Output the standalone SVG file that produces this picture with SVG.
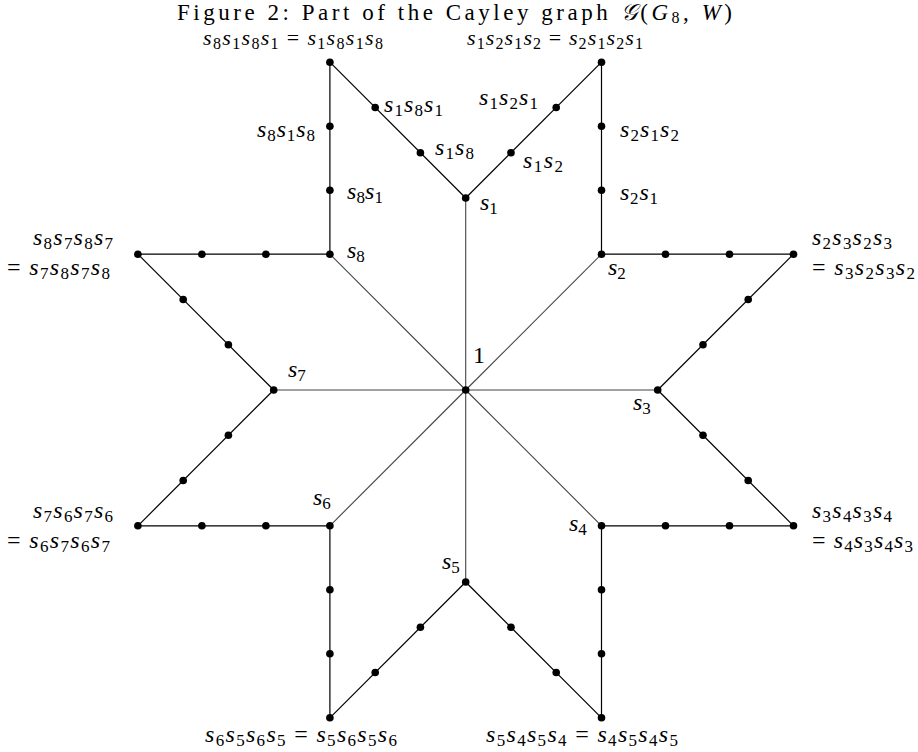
<svg xmlns="http://www.w3.org/2000/svg" width="918" height="752" viewBox="0 0 918 752">
<style>
.t{font-family:"Liberation Serif",serif;font-size:24px;fill:#000}
.v{font-style:italic}
.sb{font-size:17px;font-style:normal}
.top{font-size:22px}
.top .sb{font-size:16px}
.spoke{stroke:#444;stroke-width:1.1;fill:none}
.side{stroke:#000;stroke-width:1.2;fill:none}
.dot{fill:#000}
</style>
<rect width="918" height="752" fill="#fff"/>
<text id="title" class="t" x="177" y="20" textLength="555" lengthAdjust="spacing" style="font-size:23px">Figure 2: Part of the Cayley graph <tspan class="v">𝒢</tspan>(<tspan class="v">G</tspan><tspan style="font-size:16px" dy="3">8</tspan><tspan dy="-3">, </tspan><tspan class="v">W</tspan>)</text>
<g id="connectors">
<line class="spoke" x1="465.7" y1="390" x2="465.7" y2="198"/>
<line class="spoke" x1="465.7" y1="390" x2="601.5" y2="254.2"/>
<line class="spoke" x1="465.7" y1="390" x2="657.7" y2="390"/>
<line class="spoke" x1="465.7" y1="390" x2="601.5" y2="525.8"/>
<line class="spoke" x1="465.7" y1="390" x2="465.7" y2="582"/>
<line class="spoke" x1="465.7" y1="390" x2="329.9" y2="525.8"/>
<line class="spoke" x1="465.7" y1="390" x2="273.7" y2="390"/>
<line class="spoke" x1="465.7" y1="390" x2="329.9" y2="254.2"/>
<line class="side" x1="329.9" y1="254.2" x2="329.9" y2="62.2"/>
<line class="side" x1="465.7" y1="198" x2="329.9" y2="62.2"/>
<line class="side" x1="465.7" y1="198" x2="601.5" y2="62.2"/>
<line class="side" x1="601.5" y1="254.2" x2="601.5" y2="62.2"/>
<line class="side" x1="601.5" y1="254.2" x2="793.5" y2="254.2"/>
<line class="side" x1="657.7" y1="390" x2="793.5" y2="254.2"/>
<line class="side" x1="657.7" y1="390" x2="793.5" y2="525.8"/>
<line class="side" x1="601.5" y1="525.8" x2="793.5" y2="525.8"/>
<line class="side" x1="601.5" y1="525.8" x2="601.5" y2="717.8"/>
<line class="side" x1="465.7" y1="582" x2="601.5" y2="717.8"/>
<line class="side" x1="465.7" y1="582" x2="329.9" y2="717.8"/>
<line class="side" x1="329.9" y1="525.8" x2="329.9" y2="717.8"/>
<line class="side" x1="329.9" y1="525.8" x2="137.9" y2="525.8"/>
<line class="side" x1="273.7" y1="390" x2="137.9" y2="525.8"/>
<line class="side" x1="273.7" y1="390" x2="137.9" y2="254.2"/>
<line class="side" x1="329.9" y1="254.2" x2="137.9" y2="254.2"/>
</g>
<g id="n-1"><circle class="dot" cx="465.7" cy="390" r="3.8"/><text class="t" x="473" y="363">1</text></g>
<g id="n-s1"><circle class="dot" cx="465.7" cy="198" r="3.8"/><text class="t" x="480" y="214"><tspan class="v" dy="-4">s</tspan><tspan class="sb" dy="4">1</tspan></text></g>
<g id="n-s2"><circle class="dot" cx="601.5" cy="254.2" r="3.8"/><text class="t" x="608" y="279"><tspan class="v" dy="-4">s</tspan><tspan class="sb" dy="4">2</tspan></text></g>
<g id="n-s3"><circle class="dot" cx="657.7" cy="390" r="3.8"/><text class="t" x="633" y="414"><tspan class="v" dy="-4">s</tspan><tspan class="sb" dy="4">3</tspan></text></g>
<g id="n-s4"><circle class="dot" cx="601.5" cy="525.8" r="3.8"/><text class="t" x="569" y="535"><tspan class="v" dy="-4">s</tspan><tspan class="sb" dy="4">4</tspan></text></g>
<g id="n-s5"><circle class="dot" cx="465.7" cy="582" r="3.8"/><text class="t" x="442" y="573"><tspan class="v" dy="-4">s</tspan><tspan class="sb" dy="4">5</tspan></text></g>
<g id="n-s6"><circle class="dot" cx="329.9" cy="525.8" r="3.8"/><text class="t" x="313" y="509"><tspan class="v" dy="-4">s</tspan><tspan class="sb" dy="4">6</tspan></text></g>
<g id="n-s7"><circle class="dot" cx="273.7" cy="390" r="3.8"/><text class="t" x="288" y="381"><tspan class="v" dy="-4">s</tspan><tspan class="sb" dy="4">7</tspan></text></g>
<g id="n-s8"><circle class="dot" cx="329.9" cy="254.2" r="3.8"/><text class="t" x="347" y="262"><tspan class="v" dy="-4">s</tspan><tspan class="sb" dy="4">8</tspan></text></g>
<g id="n-s8s1"><circle class="dot" cx="329.9" cy="190.2" r="3.8"/><text class="t" x="347" y="203" textLength="36" lengthAdjust="spacing"><tspan class="v" dy="-4">s</tspan><tspan class="sb" dy="4">8</tspan><tspan class="v" dy="-4">s</tspan><tspan class="sb" dy="4">1</tspan></text></g>
<g id="n-s8s1s8"><circle class="dot" cx="329.9" cy="126.2" r="3.8"/><text class="t" x="257" y="141" textLength="58" lengthAdjust="spacing"><tspan class="v" dy="-4">s</tspan><tspan class="sb" dy="4">8</tspan><tspan class="v" dy="-4">s</tspan><tspan class="sb" dy="4">1</tspan><tspan class="v" dy="-4">s</tspan><tspan class="sb" dy="4">8</tspan></text></g>
<g id="n-s1s8"><circle class="dot" cx="420.4" cy="152.7" r="3.8"/><text class="t" x="435" y="159" textLength="39" lengthAdjust="spacing"><tspan class="v" dy="-4">s</tspan><tspan class="sb" dy="4">1</tspan><tspan class="v" dy="-4">s</tspan><tspan class="sb" dy="4">8</tspan></text></g>
<g id="n-s1s8s1"><circle class="dot" cx="375.2" cy="107.5" r="3.8"/><text class="t" x="384" y="116" textLength="59" lengthAdjust="spacing"><tspan class="v" dy="-4">s</tspan><tspan class="sb" dy="4">1</tspan><tspan class="v" dy="-4">s</tspan><tspan class="sb" dy="4">8</tspan><tspan class="v" dy="-4">s</tspan><tspan class="sb" dy="4">1</tspan></text></g>
<g id="n-c81"><circle class="dot" cx="329.9" cy="62.2" r="3.8"/><text class="t top" x="203" y="49" textLength="180" lengthAdjust="spacing"><tspan class="v" dy="-4">s</tspan><tspan class="sb" dy="4">8</tspan><tspan class="v" dy="-4">s</tspan><tspan class="sb" dy="4">1</tspan><tspan class="v" dy="-4">s</tspan><tspan class="sb" dy="4">8</tspan><tspan class="v" dy="-4">s</tspan><tspan class="sb" dy="4">1</tspan><tspan dy="-4"> = </tspan><tspan class="v">s</tspan><tspan class="sb" dy="4">1</tspan><tspan class="v" dy="-4">s</tspan><tspan class="sb" dy="4">8</tspan><tspan class="v" dy="-4">s</tspan><tspan class="sb" dy="4">1</tspan><tspan class="v" dy="-4">s</tspan><tspan class="sb" dy="4">8</tspan></text></g>
<g id="n-s1s2"><circle class="dot" cx="511" cy="152.7" r="3.8"/><text class="t" x="523" y="172" textLength="40" lengthAdjust="spacing"><tspan class="v" dy="-4">s</tspan><tspan class="sb" dy="4">1</tspan><tspan class="v" dy="-4">s</tspan><tspan class="sb" dy="4">2</tspan></text></g>
<g id="n-s1s2s1"><circle class="dot" cx="556.2" cy="107.5" r="3.8"/><text class="t" x="479" y="109" textLength="59" lengthAdjust="spacing"><tspan class="v" dy="-4">s</tspan><tspan class="sb" dy="4">1</tspan><tspan class="v" dy="-4">s</tspan><tspan class="sb" dy="4">2</tspan><tspan class="v" dy="-4">s</tspan><tspan class="sb" dy="4">1</tspan></text></g>
<g id="n-s2s1"><circle class="dot" cx="601.5" cy="190.2" r="3.8"/><text class="t" x="620" y="204" textLength="38" lengthAdjust="spacing"><tspan class="v" dy="-4">s</tspan><tspan class="sb" dy="4">2</tspan><tspan class="v" dy="-4">s</tspan><tspan class="sb" dy="4">1</tspan></text></g>
<g id="n-s2s1s2"><circle class="dot" cx="601.5" cy="126.2" r="3.8"/><text class="t" x="620" y="141" textLength="59" lengthAdjust="spacing"><tspan class="v" dy="-4">s</tspan><tspan class="sb" dy="4">2</tspan><tspan class="v" dy="-4">s</tspan><tspan class="sb" dy="4">1</tspan><tspan class="v" dy="-4">s</tspan><tspan class="sb" dy="4">2</tspan></text></g>
<g id="n-c12"><circle class="dot" cx="601.5" cy="62.2" r="3.8"/><text class="t top" x="467" y="49" textLength="176" lengthAdjust="spacing"><tspan class="v" dy="-4">s</tspan><tspan class="sb" dy="4">1</tspan><tspan class="v" dy="-4">s</tspan><tspan class="sb" dy="4">2</tspan><tspan class="v" dy="-4">s</tspan><tspan class="sb" dy="4">1</tspan><tspan class="v" dy="-4">s</tspan><tspan class="sb" dy="4">2</tspan><tspan dy="-4"> = </tspan><tspan class="v">s</tspan><tspan class="sb" dy="4">2</tspan><tspan class="v" dy="-4">s</tspan><tspan class="sb" dy="4">1</tspan><tspan class="v" dy="-4">s</tspan><tspan class="sb" dy="4">2</tspan><tspan class="v" dy="-4">s</tspan><tspan class="sb" dy="4">1</tspan></text></g>
<g id="n-m23">
<circle class="dot" cx="665.5" cy="254.2" r="3.8"/><circle class="dot" cx="729.5" cy="254.2" r="3.8"/>
<circle class="dot" cx="703" cy="344.7" r="3.8"/><circle class="dot" cx="748.2" cy="299.5" r="3.8"/>
</g>
<g id="n-c23"><circle class="dot" cx="793.5" cy="254.2" r="3.8"/>
<text class="t" x="812" y="249" textLength="80" lengthAdjust="spacing"><tspan class="v" dy="-4">s</tspan><tspan class="sb" dy="4">2</tspan><tspan class="v" dy="-4">s</tspan><tspan class="sb" dy="4">3</tspan><tspan class="v" dy="-4">s</tspan><tspan class="sb" dy="4">2</tspan><tspan class="v" dy="-4">s</tspan><tspan class="sb" dy="4">3</tspan></text>
<text class="t" x="812" y="279" textLength="103" lengthAdjust="spacing"><tspan dy="-4">= </tspan><tspan class="v">s</tspan><tspan class="sb" dy="4">3</tspan><tspan class="v" dy="-4">s</tspan><tspan class="sb" dy="4">2</tspan><tspan class="v" dy="-4">s</tspan><tspan class="sb" dy="4">3</tspan><tspan class="v" dy="-4">s</tspan><tspan class="sb" dy="4">2</tspan></text></g>
<g id="n-m34">
<circle class="dot" cx="703" cy="435.3" r="3.8"/><circle class="dot" cx="748.2" cy="480.5" r="3.8"/>
<circle class="dot" cx="665.5" cy="525.8" r="3.8"/><circle class="dot" cx="729.5" cy="525.8" r="3.8"/>
</g>
<g id="n-c34"><circle class="dot" cx="793.5" cy="525.8" r="3.8"/>
<text class="t" x="812" y="522" textLength="80" lengthAdjust="spacing"><tspan class="v" dy="-4">s</tspan><tspan class="sb" dy="4">3</tspan><tspan class="v" dy="-4">s</tspan><tspan class="sb" dy="4">4</tspan><tspan class="v" dy="-4">s</tspan><tspan class="sb" dy="4">3</tspan><tspan class="v" dy="-4">s</tspan><tspan class="sb" dy="4">4</tspan></text>
<text class="t" x="812" y="552" textLength="101" lengthAdjust="spacing"><tspan dy="-4">= </tspan><tspan class="v">s</tspan><tspan class="sb" dy="4">4</tspan><tspan class="v" dy="-4">s</tspan><tspan class="sb" dy="4">3</tspan><tspan class="v" dy="-4">s</tspan><tspan class="sb" dy="4">4</tspan><tspan class="v" dy="-4">s</tspan><tspan class="sb" dy="4">3</tspan></text></g>
<g id="n-m45">
<circle class="dot" cx="601.5" cy="589.8" r="3.8"/><circle class="dot" cx="601.5" cy="653.8" r="3.8"/>
<circle class="dot" cx="511" cy="627.3" r="3.8"/><circle class="dot" cx="556.2" cy="672.5" r="3.8"/>
</g>
<g id="n-c45"><circle class="dot" cx="601.5" cy="717.8" r="3.8"/>
<text class="t" x="486" y="746" textLength="192" lengthAdjust="spacing"><tspan class="v" dy="-4">s</tspan><tspan class="sb" dy="4">5</tspan><tspan class="v" dy="-4">s</tspan><tspan class="sb" dy="4">4</tspan><tspan class="v" dy="-4">s</tspan><tspan class="sb" dy="4">5</tspan><tspan class="v" dy="-4">s</tspan><tspan class="sb" dy="4">4</tspan><tspan dy="-4"> = </tspan><tspan class="v">s</tspan><tspan class="sb" dy="4">4</tspan><tspan class="v" dy="-4">s</tspan><tspan class="sb" dy="4">5</tspan><tspan class="v" dy="-4">s</tspan><tspan class="sb" dy="4">4</tspan><tspan class="v" dy="-4">s</tspan><tspan class="sb" dy="4">5</tspan></text></g>
<g id="n-m56">
<circle class="dot" cx="420.4" cy="627.3" r="3.8"/><circle class="dot" cx="375.2" cy="672.5" r="3.8"/>
<circle class="dot" cx="329.9" cy="589.8" r="3.8"/><circle class="dot" cx="329.9" cy="653.8" r="3.8"/>
</g>
<g id="n-c56"><circle class="dot" cx="329.9" cy="717.8" r="3.8"/>
<text class="t" x="205" y="746" textLength="192" lengthAdjust="spacing"><tspan class="v" dy="-4">s</tspan><tspan class="sb" dy="4">6</tspan><tspan class="v" dy="-4">s</tspan><tspan class="sb" dy="4">5</tspan><tspan class="v" dy="-4">s</tspan><tspan class="sb" dy="4">6</tspan><tspan class="v" dy="-4">s</tspan><tspan class="sb" dy="4">5</tspan><tspan dy="-4"> = </tspan><tspan class="v">s</tspan><tspan class="sb" dy="4">5</tspan><tspan class="v" dy="-4">s</tspan><tspan class="sb" dy="4">6</tspan><tspan class="v" dy="-4">s</tspan><tspan class="sb" dy="4">5</tspan><tspan class="v" dy="-4">s</tspan><tspan class="sb" dy="4">6</tspan></text></g>
<g id="n-m67">
<circle class="dot" cx="265.9" cy="525.8" r="3.8"/><circle class="dot" cx="201.9" cy="525.8" r="3.8"/>
<circle class="dot" cx="228.4" cy="435.3" r="3.8"/><circle class="dot" cx="183.2" cy="480.5" r="3.8"/>
</g>
<g id="n-c67"><circle class="dot" cx="137.9" cy="525.8" r="3.8"/>
<text class="t" x="33" y="522" textLength="80" lengthAdjust="spacing"><tspan class="v" dy="-4">s</tspan><tspan class="sb" dy="4">7</tspan><tspan class="v" dy="-4">s</tspan><tspan class="sb" dy="4">6</tspan><tspan class="v" dy="-4">s</tspan><tspan class="sb" dy="4">7</tspan><tspan class="v" dy="-4">s</tspan><tspan class="sb" dy="4">6</tspan></text>
<text class="t" x="7" y="552" textLength="103" lengthAdjust="spacing"><tspan dy="-4">= </tspan><tspan class="v">s</tspan><tspan class="sb" dy="4">6</tspan><tspan class="v" dy="-4">s</tspan><tspan class="sb" dy="4">7</tspan><tspan class="v" dy="-4">s</tspan><tspan class="sb" dy="4">6</tspan><tspan class="v" dy="-4">s</tspan><tspan class="sb" dy="4">7</tspan></text></g>
<g id="n-m78">
<circle class="dot" cx="228.4" cy="344.7" r="3.8"/><circle class="dot" cx="183.2" cy="299.5" r="3.8"/>
<circle class="dot" cx="265.9" cy="254.2" r="3.8"/><circle class="dot" cx="201.9" cy="254.2" r="3.8"/>
</g>
<g id="n-c78"><circle class="dot" cx="137.9" cy="254.2" r="3.8"/>
<text class="t" x="33" y="249" textLength="80" lengthAdjust="spacing"><tspan class="v" dy="-4">s</tspan><tspan class="sb" dy="4">8</tspan><tspan class="v" dy="-4">s</tspan><tspan class="sb" dy="4">7</tspan><tspan class="v" dy="-4">s</tspan><tspan class="sb" dy="4">8</tspan><tspan class="v" dy="-4">s</tspan><tspan class="sb" dy="4">7</tspan></text>
<text class="t" x="7" y="279" textLength="103" lengthAdjust="spacing"><tspan dy="-4">= </tspan><tspan class="v">s</tspan><tspan class="sb" dy="4">7</tspan><tspan class="v" dy="-4">s</tspan><tspan class="sb" dy="4">8</tspan><tspan class="v" dy="-4">s</tspan><tspan class="sb" dy="4">7</tspan><tspan class="v" dy="-4">s</tspan><tspan class="sb" dy="4">8</tspan></text></g>
</svg>
